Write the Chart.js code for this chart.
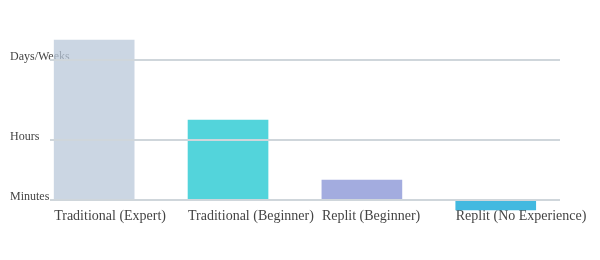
<!DOCTYPE html>
<html>
<head>
<meta charset="utf-8">
<script src="https://cdn.jsdelivr.net/npm/chart.js@4/dist/chart.umd.min.js"></script>
<style>
  html, body { margin: 0; padding: 0; background: #ffffff; }
  #wrap { width: 600px; height: 260px; position: relative; }
</style>
</head>
<body>
<div id="wrap"><canvas id="c" width="600" height="260"></canvas></div>
<script>
const categories = ['Traditional (Expert)', 'Traditional (Beginner)', 'Replit (Beginner)', 'Replit (No Experience)'];
const timeValues = [8, 4, 1, -0.5];
const tickValues = [0, 3, 7];
const tickLabels = ['Minutes', 'Hours', 'Days/Weeks'];
const barColors = ['rgba(186,200,218,0.75)', '#53d4db', '#a3acdf', '#42b9e0'];

const FAMILY = "'Liberation Serif', 'DejaVu Serif', serif";

new Chart(document.getElementById('c'), {
  type: 'bar',
  data: {
    datasets: [{
      data: categories.map((c, i) => ({ x: i, y: timeValues[i] })),
      backgroundColor: barColors,
      borderWidth: 0,
      barThickness: 80,
      clip: false
    }]
  },
  options: {
    responsive: false,
    animation: false,
    devicePixelRatio: 1,
    layout: { padding: { left: 10, right: 40, top: 40, bottom: 0 } },
    plugins: { legend: { display: false }, tooltip: { enabled: false } },
    scales: {
      x: {
        type: 'linear',
        offset: false,
        min: -0.33,
        max: 3.48,
        afterBuildTicks: (s) => { s.ticks = categories.map((c, i) => ({ value: i })); },
        afterFit: (s) => { s.height = 60; s.paddingLeft = 0; s.paddingRight = 0; },
        grid: { display: false, drawTicks: false },
        border: { display: false },
        ticks: {
          autoSkip: false,
          maxRotation: 0,
          minRotation: 0,
          align: 'start',
          labelOffset: -40,
          padding: 8,
          color: '#444444',
          font: { family: FAMILY, size: 14 },
          callback: (v) => categories[v]
        }
      },
      y: {
        type: 'linear',
        min: 0,
        max: 8,
        afterBuildTicks: (s) => { s.ticks = tickValues.map(v => ({ value: v })); },
        afterFit: (s) => { s.width = 40; s.paddingTop = 0; s.paddingBottom = 0; },
        grid: { color: '#cfd6db', lineWidth: 2, drawTicks: false, z: 1 },
        border: { display: false },
        ticks: {
          mirror: true,
          labelOffset: -3,
          padding: -40,
          color: '#444444',
          font: { family: FAMILY, size: 12 },
          callback: (v) => tickLabels[tickValues.indexOf(v)]
        }
      }
    }
  }
});
</script>
</body>
</html>
